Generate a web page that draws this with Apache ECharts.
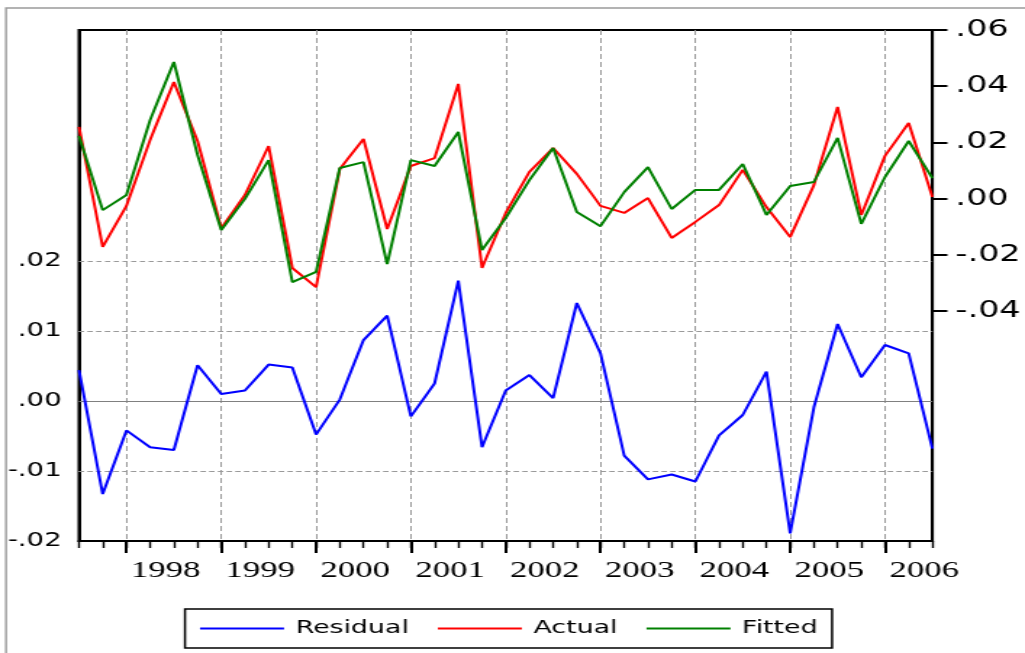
<!DOCTYPE html>
<html>
<head>
<meta charset="utf-8">
<script src="https://cdn.jsdelivr.net/npm/echarts@6/dist/echarts.min.js"></script>
<style>
  html, body { margin: 0; padding: 0; background: #fff; overflow: hidden; }
  /* the graph is laid out on a narrower canvas and stretched horizontally */
  #chart { width: 707px; height: 653px; transform: scaleX(1.449788); transform-origin: 0 0; }
</style>
</head>
<body>
<div id="chart"></div>
<script>
// Quarterly observations
const quarters = [
  '1997Q3', '1997Q4',
  '1998Q1', '1998Q2', '1998Q3', '1998Q4',
  '1999Q1', '1999Q2', '1999Q3', '1999Q4',
  '2000Q1', '2000Q2', '2000Q3', '2000Q4',
  '2001Q1', '2001Q2', '2001Q3', '2001Q4',
  '2002Q1', '2002Q2', '2002Q3', '2002Q4',
  '2003Q1', '2003Q2', '2003Q3', '2003Q4',
  '2004Q1', '2004Q2', '2004Q3', '2004Q4',
  '2005Q1', '2005Q2', '2005Q3', '2005Q4',
  '2006Q1', '2006Q2', '2006Q3'
];
const yearLabels = ['1998', '1999', '2000', '2001', '2002', '2003', '2004', '2005', '2006'];

// Residual (left scale)
const residual = [
  0.0044, -0.0133, -0.0042, -0.0066, -0.0070, 0.0051, 0.0010, 0.0015, 0.0052, 0.0048,
  -0.0048, 0.0002, 0.0087, 0.0122, -0.0022, 0.0025, 0.0172, -0.0066, 0.0015, 0.0037,
  0.0004, 0.0140, 0.0068, -0.0078, -0.0112, -0.0105, -0.0115, -0.0049, -0.0020, 0.0042,
  -0.0189, -0.0009, 0.0110, 0.0034, 0.0080, 0.0068, -0.0068
];
// Actual (right scale)
const actual = [
  0.0255, -0.0172, -0.0026, 0.0209, 0.0415, 0.0205, -0.0105, 0.0013, 0.0187, -0.0247,
  -0.0315, 0.0105, 0.0212, -0.0108, 0.0116, 0.0144, 0.0408, -0.0247, -0.0051, 0.0095,
  0.0180, 0.0088, -0.0026, -0.0051, 0.0002, -0.0140, -0.0083, -0.0023, 0.0102, -0.0030,
  -0.0137, 0.0048, 0.0326, -0.0058, 0.0152, 0.0269, 0.0006
];
// Fitted (right scale)
const fitted = [
  0.0223, -0.0041, 0.0013, 0.0280, 0.0486, 0.0155, -0.0112, -0.0001, 0.0137, -0.0297,
  -0.0261, 0.0109, 0.0130, -0.0233, 0.0137, 0.0116, 0.0237, -0.0183, -0.0069, 0.0066,
  0.0180, -0.0048, -0.0098, 0.0023, 0.0112, -0.0037, 0.0031, 0.0031, 0.0123, -0.0058,
  0.0045, 0.0059, 0.0216, -0.0090, 0.0077, 0.0205, 0.0073
];

const leftTicks = [-0.02, -0.01, 0, 0.01, 0.02];
const rightTicks = [-0.04, -0.02, 0, 0.02, 0.04, 0.06];
const gridValues = [0.02, 0.01, -0.01];     // dashed reference levels on the residual scale
const seBand = [0.0095, -0.0095];          // +/- one standard error of the regression

// horizontal stretch applied by CSS; page x -> canvas x
const S = 1025 / 707;
const px = x => x / S;

const q1Index = quarters.map((q, i) => (q.endsWith('Q1') ? i : -1)).filter(i => i >= 0);
const isYearStart = i => q1Index.indexOf(i) >= 0;

function fmt(v) {
  const s = Math.abs(v).toFixed(2).replace(/^0/, '');
  return (v < -1e-9 ? '-' : '') + s;
}

const refLines = gridValues.map(v => ({ yAxis: v, lineStyle: { type: [3.5, 2.5], color: '#9a9a9a', width: 1 } }))
  .concat(seBand.map(v => ({ yAxis: v, lineStyle: { type: [3.5, 2.5], color: '#9a9a9a', width: 1 } })))
  .concat([{ yAxis: 0, lineStyle: { type: 'solid', color: '#808080', width: 1 } }]);

const chart = echarts.init(document.getElementById('chart'), null, { renderer: 'canvas' });

chart.setOption({
  animation: false,
  backgroundColor: '#fff',
  graphic: [{
    type: 'rect',
    shape: { x: px(6), y: 8, width: 900, height: 800 },
    style: { fill: 'none', stroke: '#9a9a9a', lineWidth: 1.4 },
    z: -10
  }],
  grid: {
    left: px(79), right: 707 - px(933), top: 30, bottom: 112,
    show: true, borderColor: '#000', borderWidth: 2, backgroundColor: 'transparent'
  },
  legend: {
    data: ['Residual', 'Actual', 'Fitted'],
    left: px(185), top: 609,
    icon: 'rect', itemWidth: px(84), itemHeight: 2, itemGap: 20,
    padding: [10, 10, 10, px(15)],
    borderColor: '#000', borderWidth: 1.5,
    textStyle: { fontFamily: 'DejaVu Sans', fontSize: 18.5, color: '#000', padding: [0, 0, 0, 3] }
  },
  xAxis: [{
    type: 'category', data: quarters, boundaryGap: false, position: 'bottom',
    axisLine: { show: true, onZero: false, lineStyle: { color: '#000', width: 2 } },
    axisTick: { show: true, interval: 0, length: 7, lineStyle: { color: '#000', width: 1.4 } },
    axisLabel: { show: false },
    splitLine: { show: false }
  }, {
    type: 'category', data: quarters, boundaryGap: false, position: 'bottom',
    axisLine: { show: false, onZero: false },
    axisTick: { show: true, interval: i => isYearStart(i), length: 12, lineStyle: { color: '#000', width: 2 } },
    axisLabel: {
      show: true, interval: i => isYearStart(i),
      formatter: (v, i) => yearLabels[q1Index.indexOf(i)] || '',
      align: 'left', padding: [0, 0, 0, 3], margin: 18,
      fontFamily: 'Liberation Serif', fontSize: 24, color: '#000'
    },
    splitLine: { show: true, interval: i => isYearStart(i), lineStyle: { color: '#9a9a9a', width: 1, type: [5, 3] } }
  }],
  yAxis: [{
    type: 'value', position: 'left', min: -0.02, max: 0.053,
    axisLine: { show: true, lineStyle: { color: '#000', width: 2 } },
    axisTick: { show: false },
    splitLine: { show: false },
    axisLabel: { customValues: leftTicks, formatter: fmt, fontFamily: 'DejaVu Sans', fontSize: 19, color: '#000', margin: 12 }
  }, {
    type: 'value', position: 'right', min: -0.12185, max: 0.06,
    axisLine: { show: true, lineStyle: { color: '#000', width: 2 } },
    axisTick: { show: true, customValues: rightTicks, length: px(15), lineStyle: { color: '#000', width: 2 } },
    splitLine: { show: false },
    axisLabel: { customValues: rightTicks, formatter: fmt, fontFamily: 'DejaVu Sans', fontSize: 23, color: '#000', margin: 16 }
  }],
  series: [{
    name: 'Residual', type: 'line', data: residual, xAxisIndex: 0, yAxisIndex: 0,
    symbol: 'none', color: '#0000ff', lineStyle: { width: 2, color: '#0000ff' },
    markLine: { silent: true, symbol: ['none', 'none'], label: { show: false }, data: refLines, z: 1 }
  }, {
    name: 'Actual', type: 'line', data: actual, xAxisIndex: 0, yAxisIndex: 1,
    symbol: 'none', color: '#ff0000', lineStyle: { width: 2, color: '#ff0000' }
  }, {
    name: 'Fitted', type: 'line', data: fitted, xAxisIndex: 0, yAxisIndex: 1,
    symbol: 'none', color: '#008000', lineStyle: { width: 2, color: '#008000' }
  }]
});
</script>
</body>
</html>
